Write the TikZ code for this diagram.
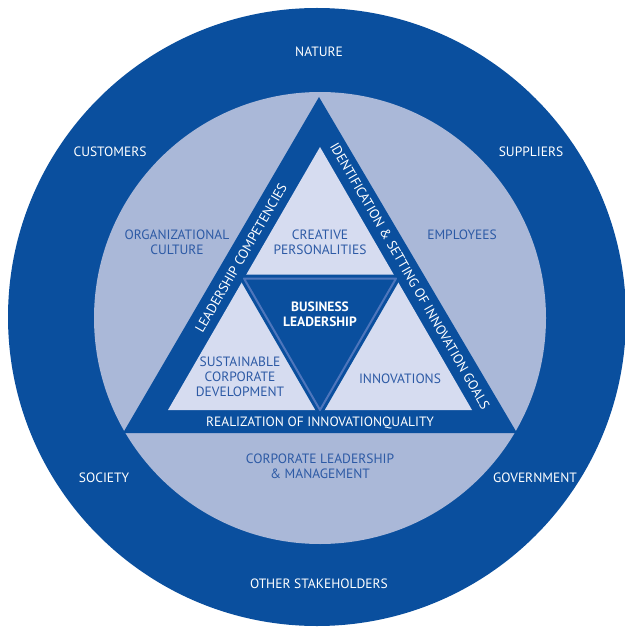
\documentclass[tikz,border=0pt]{standalone}
\usepackage{fontspec}
\setmainfont{PT Sans}
\definecolor{ringblue}{RGB}{10,79,158}
\definecolor{paleblue}{RGB}{170,184,216}
\definecolor{mistblue}{RGB}{214,220,240}
\definecolor{edgeblue}{RGB}{78,118,188}
\definecolor{textblue}{RGB}{45,90,165}

\begin{document}
\begin{tikzpicture}[x=1pt,y=-1pt]
    \tikzstyle{every node}=[font=\fontsize{13.5}{15}\selectfont,align=center,inner sep=0pt];
    \tikzstyle{on dark}=[text=white];
    \tikzstyle{on light}=[text=textblue];
    \useasboundingbox (0,0) rectangle (624,628);

    % rings
    \fill[ringblue] (317,317) circle (309);
    \fill[paleblue] (320,318) circle (226);

    % triangles
    \fill[ringblue] (319,97) -- (123,433) -- (517,433) -- cycle;
    \fill[mistblue] (320,147) -- (168,410) -- (472,410) -- cycle;
    \draw[ringblue,fill=ringblue,line width=8pt] (244,278.5) -- (396,278.5) -- (320,410) -- cycle;
    \draw[edgeblue,line width=2pt,line join=round] (244,278.5) -- (396,278.5) -- (320,410) -- cycle;

    % outer ring
    \node[on dark] at (319,52)  (nature) {NATURE};
    \node[on dark] at (110,152) (customers) {CUSTOMERS};
    \node[on dark] at (531,152) (suppliers) {SUPPLIERS};
    \node[on dark] at (104,478) (society) {SOCIETY};
    \node[on dark] at (535,478) (government) {GOVERNMENT};
    \node[on dark] at (319,584) (stakeholders) {OTHER STAKEHOLDERS};

    % inner ring
    \node[on light] at (177,242) (culture) {ORGANIZATIONAL\\CULTURE};
    \node[on light] at (462,235) (employees) {EMPLOYEES};
    \node[on light] at (320,466) (management) {CORPORATE LEADERSHIP\\\& MANAGEMENT};

    % triangle
    \node[on light] at (320,242) (creative) {CREATIVE\\PERSONALITIES};
    \node[on dark,font=\fontsize{13.5}{15}\selectfont\bfseries] at (320,314) (business) {BUSINESS\\LEADERSHIP};
    \node[on light] at (240,377) (sustainable) {SUSTAINABLE\\CORPORATE\\DEVELOPMENT};
    \node[on light] at (400,379) (innovations) {INNOVATIONS};
    \node[on dark] at (320,423) (realization) {REALIZATION OF INNOVATIONQUALITY};
    \node[on dark,rotate=60] at (241,258) (competencies) {LEADERSHIP COMPETENCIES};
    \node[on dark,rotate=-60] at (410,276) (goals) {IDENTIFICATION \& SETTING OF INNOVATION GOALS};
\end{tikzpicture}
\end{document}
